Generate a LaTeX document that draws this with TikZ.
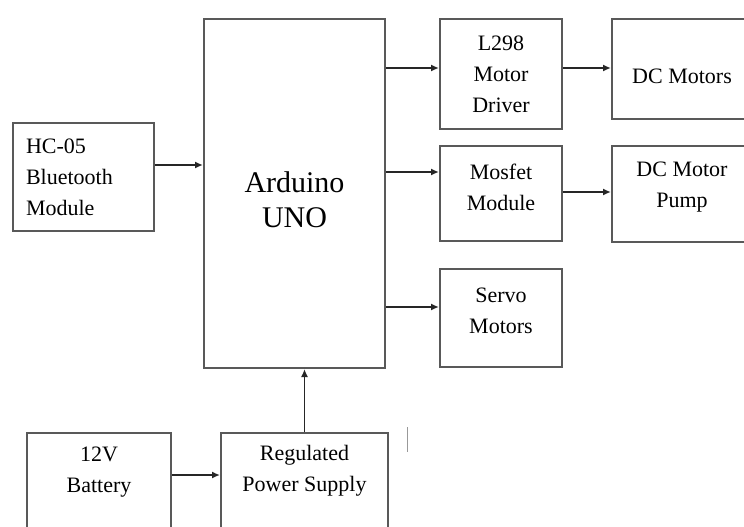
\documentclass[tikz,border=0pt]{standalone}
\usepackage{fontspec}
\setmainfont{Liberation Serif}
\usetikzlibrary{arrows.meta,positioning}

\tikzset{
  blk/.style={draw=black!65, line width=2pt, fill=white, align=center,
    inner sep=0pt, font=\fontsize{22}{31}\selectfont},
  arr/.style={-{Latex[length=8pt,width=7pt]}, line width=1.6pt, black!85},
}

\begin{document}
\begin{tikzpicture}[x=1pt, y=-1pt]
  \useasboundingbox (0,0) rectangle (744,527);
  % controller
  \node[blk, minimum width=181pt, minimum height=349pt,
        font=\fontsize{30}{35}\selectfont, text height=68pt] (ard) at (294.5,193.5) {Arduino\\UNO};
  % inputs
  \node[blk, align=left, text width=115pt, inner xsep=13pt, minimum height=108pt]
        (hc) at (83.5,177) {HC-05\\Bluetooth\\Module};
  \node[blk, minimum width=144pt, minimum height=97pt, text depth=24pt] (bat) at (99,481.5) {12V\\Battery};
  \node[blk, minimum width=167pt, minimum height=97pt, text depth=26pt] (reg) at (304.5,481.5) {Regulated\\Power Supply};
  % outputs
  \node[blk, minimum width=122pt, minimum height=110pt] (l298) at (501,74) {L298\\Motor\\Driver};
  \node[blk, minimum width=122pt, minimum height=95pt, text depth=13pt] (mos) at (501,193.5) {Mosfet\\Module};
  \node[blk, minimum width=122pt, minimum height=98pt, text depth=14pt] (servo) at (501,318) {Servo\\Motors};
  \node[blk, minimum width=140pt, minimum height=100pt, text height=29pt] (dcm) at (682,69) {DC Motors};
  \node[blk, minimum width=140pt, minimum height=96pt, text depth=19pt] (pump) at (682,194) {DC Motor\\Pump};

  % arrow rows
  \coordinate (yhc) at (0,165);
  \coordinate (ylm) at (0,68);
  \coordinate (ymf) at (0,172);
  \coordinate (ysv) at (0,307);
  \coordinate (ypm) at (0,192);
  \coordinate (ybt) at (0,475);

  \draw[arr] (hc.east |- yhc) -- (ard.west |- yhc);
  \draw[arr] (ard.east |- ylm) -- (l298.west |- ylm);
  \draw[arr] (l298.east |- ylm) -- (dcm.west |- ylm);
  \draw[arr] (ard.east |- ymf) -- (mos.west |- ymf);
  \draw[arr] (mos.east |- ypm) -- (pump.west |- ypm);
  \draw[arr] (ard.east |- ysv) -- (servo.west |- ysv);
  \draw[arr] (bat.east |- ybt) -- (reg.west |- ybt);
  \draw[arr] (reg.north) -- (ard.south -| reg.north);

  \draw[black!40, line width=1pt] (407,427) -- (407,452);
\end{tikzpicture}
\end{document}
